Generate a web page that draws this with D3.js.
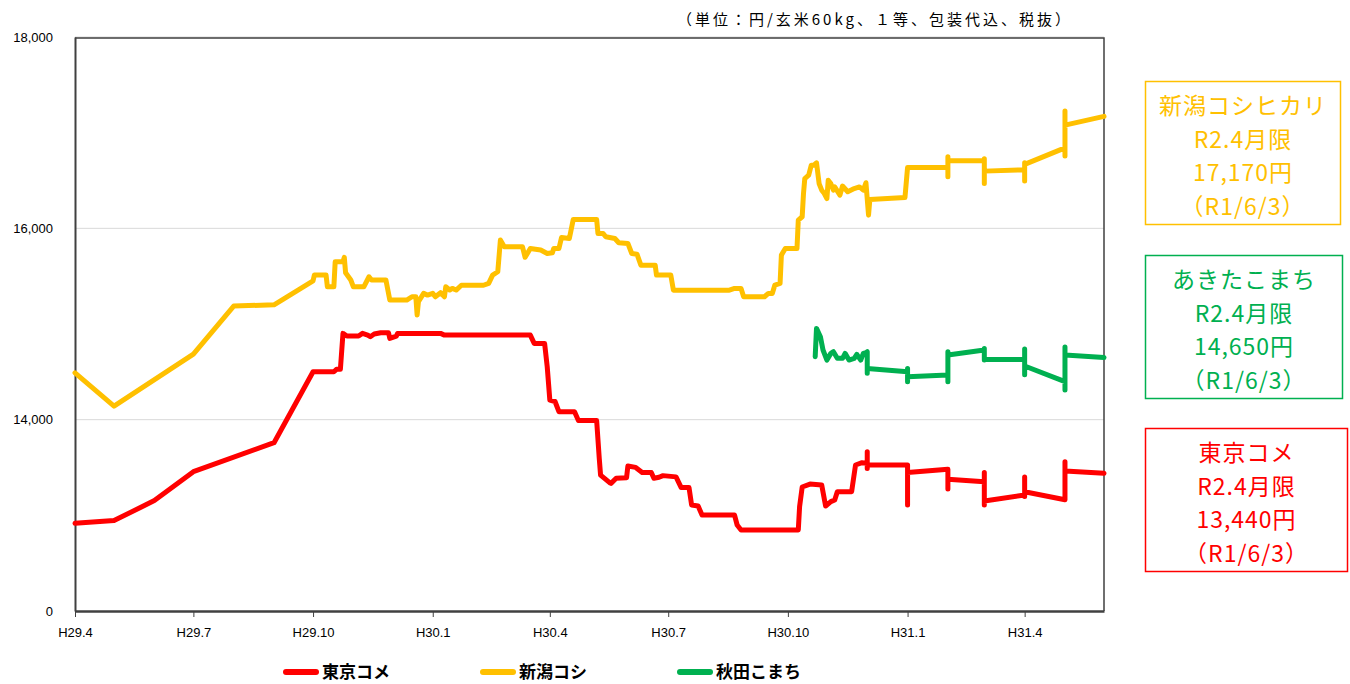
<!DOCTYPE html>
<html>
<head>
<meta charset="utf-8">
<script src="https://cdn.jsdelivr.net/npm/d3@7"></script>
<style>
  body { margin: 0; background: #fff; }
  text { font-family: "Noto Sans CJK JP", "Noto Sans", sans-serif; }
</style>
</head>
<body>
<div id="chart"></div>
<script>
// Tick labels (y axis is cut: the bottom label "0" sits at 12,000)
const yTickValues = [12000, 14000, 16000, 18000];
const yTickLabels = ["0", "14,000", "16,000", "18,000"];
const xTickDates = ["2017-04-01", "2017-07-01", "2017-10-01", "2018-01-01", "2018-04-01",
                    "2018-07-01", "2018-10-01", "2019-01-01", "2019-04-01"];
const xTickLabels = ["H29.4", "H29.7", "H29.10", "H30.1", "H30.4", "H30.7", "H30.10", "H31.1", "H31.4"];

// Series names and colours
const seriesNames = ["東京コメ", "新潟コシ", "秋田こまち"];
const seriesColors = ["#ff0000", "#ffc000", "#00b050"];

// Tokyo rice futures (円/60kg)
const tokyo = [
  ["2017-04-01",12917],["2017-05-01",12945],["2017-06-01",13154],["2017-07-01",13456],["2017-09-01",13759],
  ["2017-10-01",14501],["2017-10-17",14501],["2017-10-19",14526],["2017-10-22",14526],["2017-10-24",14902],
  ["2017-10-27",14874],["2017-11-05",14874],["2017-11-08",14902],["2017-11-12",14884],["2017-11-14",14867],
  ["2017-11-17",14895],["2017-11-22",14909],["2017-11-28",14909],["2017-11-29",14850],["2017-12-04",14874],
  ["2017-12-05",14902],["2018-01-07",14902],["2018-01-10",14884],["2018-03-17",14884],["2018-03-20",14797],
  ["2018-03-28",14797],["2018-03-30",14553],["2018-04-01",14205],["2018-04-05",14190],["2018-04-08",14084],
  ["2018-04-20",14084],["2018-04-23",13990],["2018-05-07",13990],["2018-05-09",13595],["2018-05-10",13421],
  ["2018-05-17",13341],["2018-05-18",13334],["2018-05-22",13387],["2018-05-30",13394],["2018-05-31",13515],
  ["2018-06-06",13501],["2018-06-11",13448],["2018-06-18",13448],["2018-06-20",13387],["2018-06-24",13398],
  ["2018-06-27",13415],["2018-07-07",13402],["2018-07-11",13290],["2018-07-17",13290],["2018-07-19",13108],
  ["2018-07-24",13097],["2018-07-27",13003],["2018-08-21",13003],["2018-08-23",12899],["2018-08-26",12847],
  ["2018-10-09",12847],["2018-10-10",13091],["2018-10-12",13296],["2018-10-18",13327],["2018-10-27",13317],
  ["2018-10-30",13097],["2018-11-03",13143],["2018-11-06",13160],["2018-11-08",13247],["2018-11-19",13247],
  ["2018-11-22",13526],["2018-11-27",13550],["2018-12-01",13543],["2018-12-01",13665],["2018-12-01",13490],
  ["2018-12-01",13526],["2019-01-01",13526],["2019-01-01",13108],["2019-01-01",13448],["2019-02-01",13481],
  ["2019-02-01",13275],["2019-02-01",13377],["2019-03-01",13352],["2019-03-01",13448],["2019-03-01",13108],
  ["2019-03-01",13150],["2019-04-01",13212],["2019-04-01",13400],["2019-04-01",13197],["2019-04-01",13247],
  ["2019-05-02",13163],["2019-05-02",13560],["2019-05-02",13463],["2019-06-01",13440]
];

// Niigata Koshihikari
const niigata = [
  ["2017-04-01",14490],["2017-05-01",14142],["2017-07-01",14686],["2017-08-01",15187],["2017-09-01",15201],
  ["2017-10-01",15452],["2017-10-02",15511],["2017-10-11",15511],["2017-10-12",15389],["2017-10-17",15389],
  ["2017-10-18",15650],["2017-10-24",15650],["2017-10-25",15697],["2017-10-26",15536],["2017-10-30",15460],
  ["2017-11-01",15389],["2017-11-09",15389],["2017-11-13",15494],["2017-11-15",15459],["2017-11-26",15459],
  ["2017-11-29",15250],["2017-12-12",15250],["2017-12-16",15285],["2017-12-19",15285],["2017-12-20",15093],
  ["2017-12-21",15233],["2017-12-25",15320],["2017-12-28",15302],["2018-01-01",15320],["2018-01-03",15285],
  ["2018-01-07",15327],["2018-01-10",15285],["2018-01-11",15389],["2018-01-14",15355],["2018-01-16",15372],
  ["2018-01-19",15355],["2018-01-23",15405],["2018-02-09",15405],["2018-02-13",15425],["2018-02-16",15511],
  ["2018-02-20",15546],["2018-02-22",15877],["2018-02-25",15807],["2018-03-11",15807],["2018-03-13",15697],
  ["2018-03-17",15789],["2018-03-25",15773],["2018-03-30",15737],["2018-04-03",15744],["2018-04-04",15789],
  ["2018-04-08",15789],["2018-04-10",15904],["2018-04-16",15894],["2018-04-17",15960],["2018-04-19",16093],
  ["2018-05-07",16093],["2018-05-08",15946],["2018-05-12",15946],["2018-05-14",15912],["2018-05-21",15894],
  ["2018-05-24",15849],["2018-05-31",15842],["2018-06-03",15737],["2018-06-07",15730],["2018-06-10",15615],
  ["2018-06-21",15615],["2018-06-22",15511],["2018-07-03",15511],["2018-07-05",15354],["2018-08-17",15354],
  ["2018-08-21",15372],["2018-08-26",15372],["2018-08-28",15285],["2018-09-13",15285],["2018-09-16",15320],
  ["2018-09-19",15320],["2018-09-21",15407],["2018-09-25",15425],["2018-09-26",15720],["2018-09-29",15789],
  ["2018-10-08",15789],["2018-10-09",16086],["2018-10-12",16121],["2018-10-13",16363],["2018-10-14",16520],
  ["2018-10-17",16556],["2018-10-19",16660],["2018-10-21",16660],["2018-10-23",16685],["2018-10-25",16468],
  ["2018-10-27",16399],["2018-10-29",16364],["2018-10-31",16311],["2018-11-01",16503],["2018-11-03",16468],
  ["2018-11-05",16399],["2018-11-06",16433],["2018-11-10",16347],["2018-11-12",16442],["2018-11-16",16382],
  ["2018-11-21",16416],["2018-11-25",16433],["2018-11-28",16399],["2018-11-30",16477],["2018-12-02",16138],
  ["2018-12-03",16302],["2018-12-30",16323],["2019-01-01",16636],["2019-02-01",16636],["2019-02-01",16538],
  ["2019-02-01",16747],["2019-02-01",16706],["2019-03-01",16706],["2019-03-01",16727],["2019-03-01",16468],
  ["2019-03-01",16598],["2019-04-01",16612],["2019-04-01",16685],["2019-04-01",16494],["2019-04-01",16669],
  ["2019-05-02",16841],["2019-05-02",17226],["2019-05-02",16756],["2019-05-02",17079],["2019-06-01",17170]
];

// Akita Komachi
const akita = [
  ["2018-10-22",14658],["2018-10-23",14954],["2018-10-26",14867],["2018-10-28",14728],["2018-10-31",14623],
  ["2018-11-03",14693],["2018-11-05",14710],["2018-11-08",14641],["2018-11-12",14641],["2018-11-14",14693],
  ["2018-11-17",14623],["2018-11-21",14640],["2018-11-23",14682],["2018-11-26",14623],["2018-11-28",14693],
  ["2018-11-30",14700],["2018-12-01",14710],["2018-12-01",14484],["2018-12-01",14535],["2019-01-01",14501],
  ["2019-01-01",14535],["2019-01-01",14397],["2019-01-01",14449],["2019-02-01",14466],["2019-02-01",14397],
  ["2019-02-01",14710],["2019-02-01",14675],["2019-03-01",14728],["2019-03-01",14745],["2019-03-01",14623],
  ["2019-03-01",14630],["2019-04-01",14630],["2019-04-01",14738],["2019-04-01",14470],["2019-04-01",14561],
  ["2019-05-02",14397],["2019-05-02",14310],["2019-05-02",14759],["2019-05-02",14675],["2019-06-01",14650]
];

// Side boxes (latest price notes)
const boxLines = [
  ["新潟コシヒカリ", "R2.4月限", "17,170円", "（R1/6/3）"],
  ["あきたこまち", "R2.4月限", "14,650円", "（R1/6/3）"],
  ["東京コメ", "R2.4月限", "13,440円", "（R1/6/3）"]
];
const boxColors = ["#ffc000", "#00b050", "#ff0000"];
const unitText = "（単位：円/玄米60kg、１等、包装代込、税抜）";

const parseDate = d3.timeParse("%Y-%m-%d");

const svg = d3.select("#chart")
  .append("svg")
  .attr("width", 1350)
  .attr("height", 684);

const plotLeft = 75, plotRight = 1104, plotTop = 37, plotBottom = 611;

// Scales
const x = d3.scaleTime()
  .domain([parseDate("2017-04-01"), parseDate("2019-06-01")])
  .range([plotLeft, plotRight]);

const y = d3.scaleLinear()
  .domain([12000, 18000])
  .range([plotBottom, plotTop]);

// Gridlines
svg.append("g")
  .selectAll("line")
  .data(yTickValues.slice(1))
  .join("line")
  .attr("x1", plotLeft)
  .attr("x2", plotRight)
  .attr("y1", d => y(d))
  .attr("y2", d => y(d))
  .attr("stroke", "#d9d9d9")
  .attr("stroke-width", 1);

// Plot border (top + right)
svg.append("path")
  .attr("d", `M${plotLeft},${plotTop + 1}H${plotRight}V${plotBottom}`)
  .attr("fill", "none")
  .attr("stroke", "#404040")
  .attr("stroke-width", 1.5);

// Y axis
const yAxis = svg.append("g")
  .attr("transform", `translate(${plotLeft},0)`)
  .call(d3.axisLeft(y)
    .tickValues(yTickValues)
    .tickSize(0)
    .tickPadding(22)
    .tickFormat((d, i) => yTickLabels[i]));
yAxis.select(".domain").attr("stroke", "#404040").attr("stroke-width", 2);
yAxis.selectAll("text").attr("font-size", 13).attr("fill", "#000")
  .style("font-family", "'Liberation Sans', Arial, sans-serif");

// X axis
const xAxis = svg.append("g")
  .attr("transform", `translate(0,${plotBottom})`)
  .call(d3.axisBottom(x)
    .tickValues(xTickDates.map(parseDate))
    .tickSize(6)
    .tickSizeOuter(0)
    .tickPadding(11)
    .tickFormat((d, i) => xTickLabels[i]));
xAxis.select(".domain").attr("stroke", "#404040").attr("stroke-width", 2.5);
xAxis.selectAll(".tick line").attr("stroke", "#404040").attr("stroke-width", 1);
xAxis.selectAll("text").attr("font-size", 13).attr("fill", "#000")
  .style("font-family", "'Liberation Sans', Arial, sans-serif");

// Lines
const line = d3.line()
  .x(d => x(parseDate(d[0])))
  .y(d => y(d[1]));

[tokyo, niigata, akita].forEach((data, i) => {
  svg.append("path")
    .datum(data)
    .attr("d", line)
    .attr("fill", "none")
    .attr("stroke", seriesColors[i])
    .attr("stroke-width", 5)
    .attr("stroke-linejoin", "round")
    .attr("stroke-linecap", "round");
});

// Unit note
svg.append("text")
  .attr("x", 1073)
  .attr("y", 25)
  .attr("text-anchor", "end")
  .attr("font-size", 15)
  .attr("letter-spacing", 3)
  .attr("fill", "#000")
  .text(unitText);

// Legend
const legend = svg.append("g");
seriesNames.forEach((name, i) => {
  const lx = 286 + i * 197;
  legend.append("line")
    .attr("x1", lx).attr("x2", lx + 30)
    .attr("y1", 672).attr("y2", 672)
    .attr("stroke", seriesColors[i])
    .attr("stroke-width", 6)
    .attr("stroke-linecap", "round");
  legend.append("text")
    .attr("x", lx + 36)
    .attr("y", 678)
    .attr("font-size", 17)
    .attr("font-weight", "bold")
    .attr("fill", "#000")
    .text(name);
});

// Side boxes
const boxTops = [81, 255, 428];
const boxWidths = [195, 197, 202];
boxLines.forEach((lines, i) => {
  const g = svg.append("g");
  g.append("rect")
    .attr("x", 1145.5)
    .attr("y", boxTops[i] + 0.5)
    .attr("width", boxWidths[i])
    .attr("height", 143)
    .attr("fill", "#fff")
    .attr("stroke", boxColors[i])
    .attr("stroke-width", 1.5);
  g.selectAll("text")
    .data(lines)
    .join("text")
    .attr("x", 1145.5 + boxWidths[i] / 2)
    .attr("y", (d, j) => boxTops[i] + 23 + j * 33.5)
    .attr("dominant-baseline", "central")
    .attr("text-anchor", "middle")
    .attr("font-size", 23)
    .attr("letter-spacing", 1)
    .attr("fill", boxColors[i])
    .text(d => d);
});
</script>
</body>
</html>
